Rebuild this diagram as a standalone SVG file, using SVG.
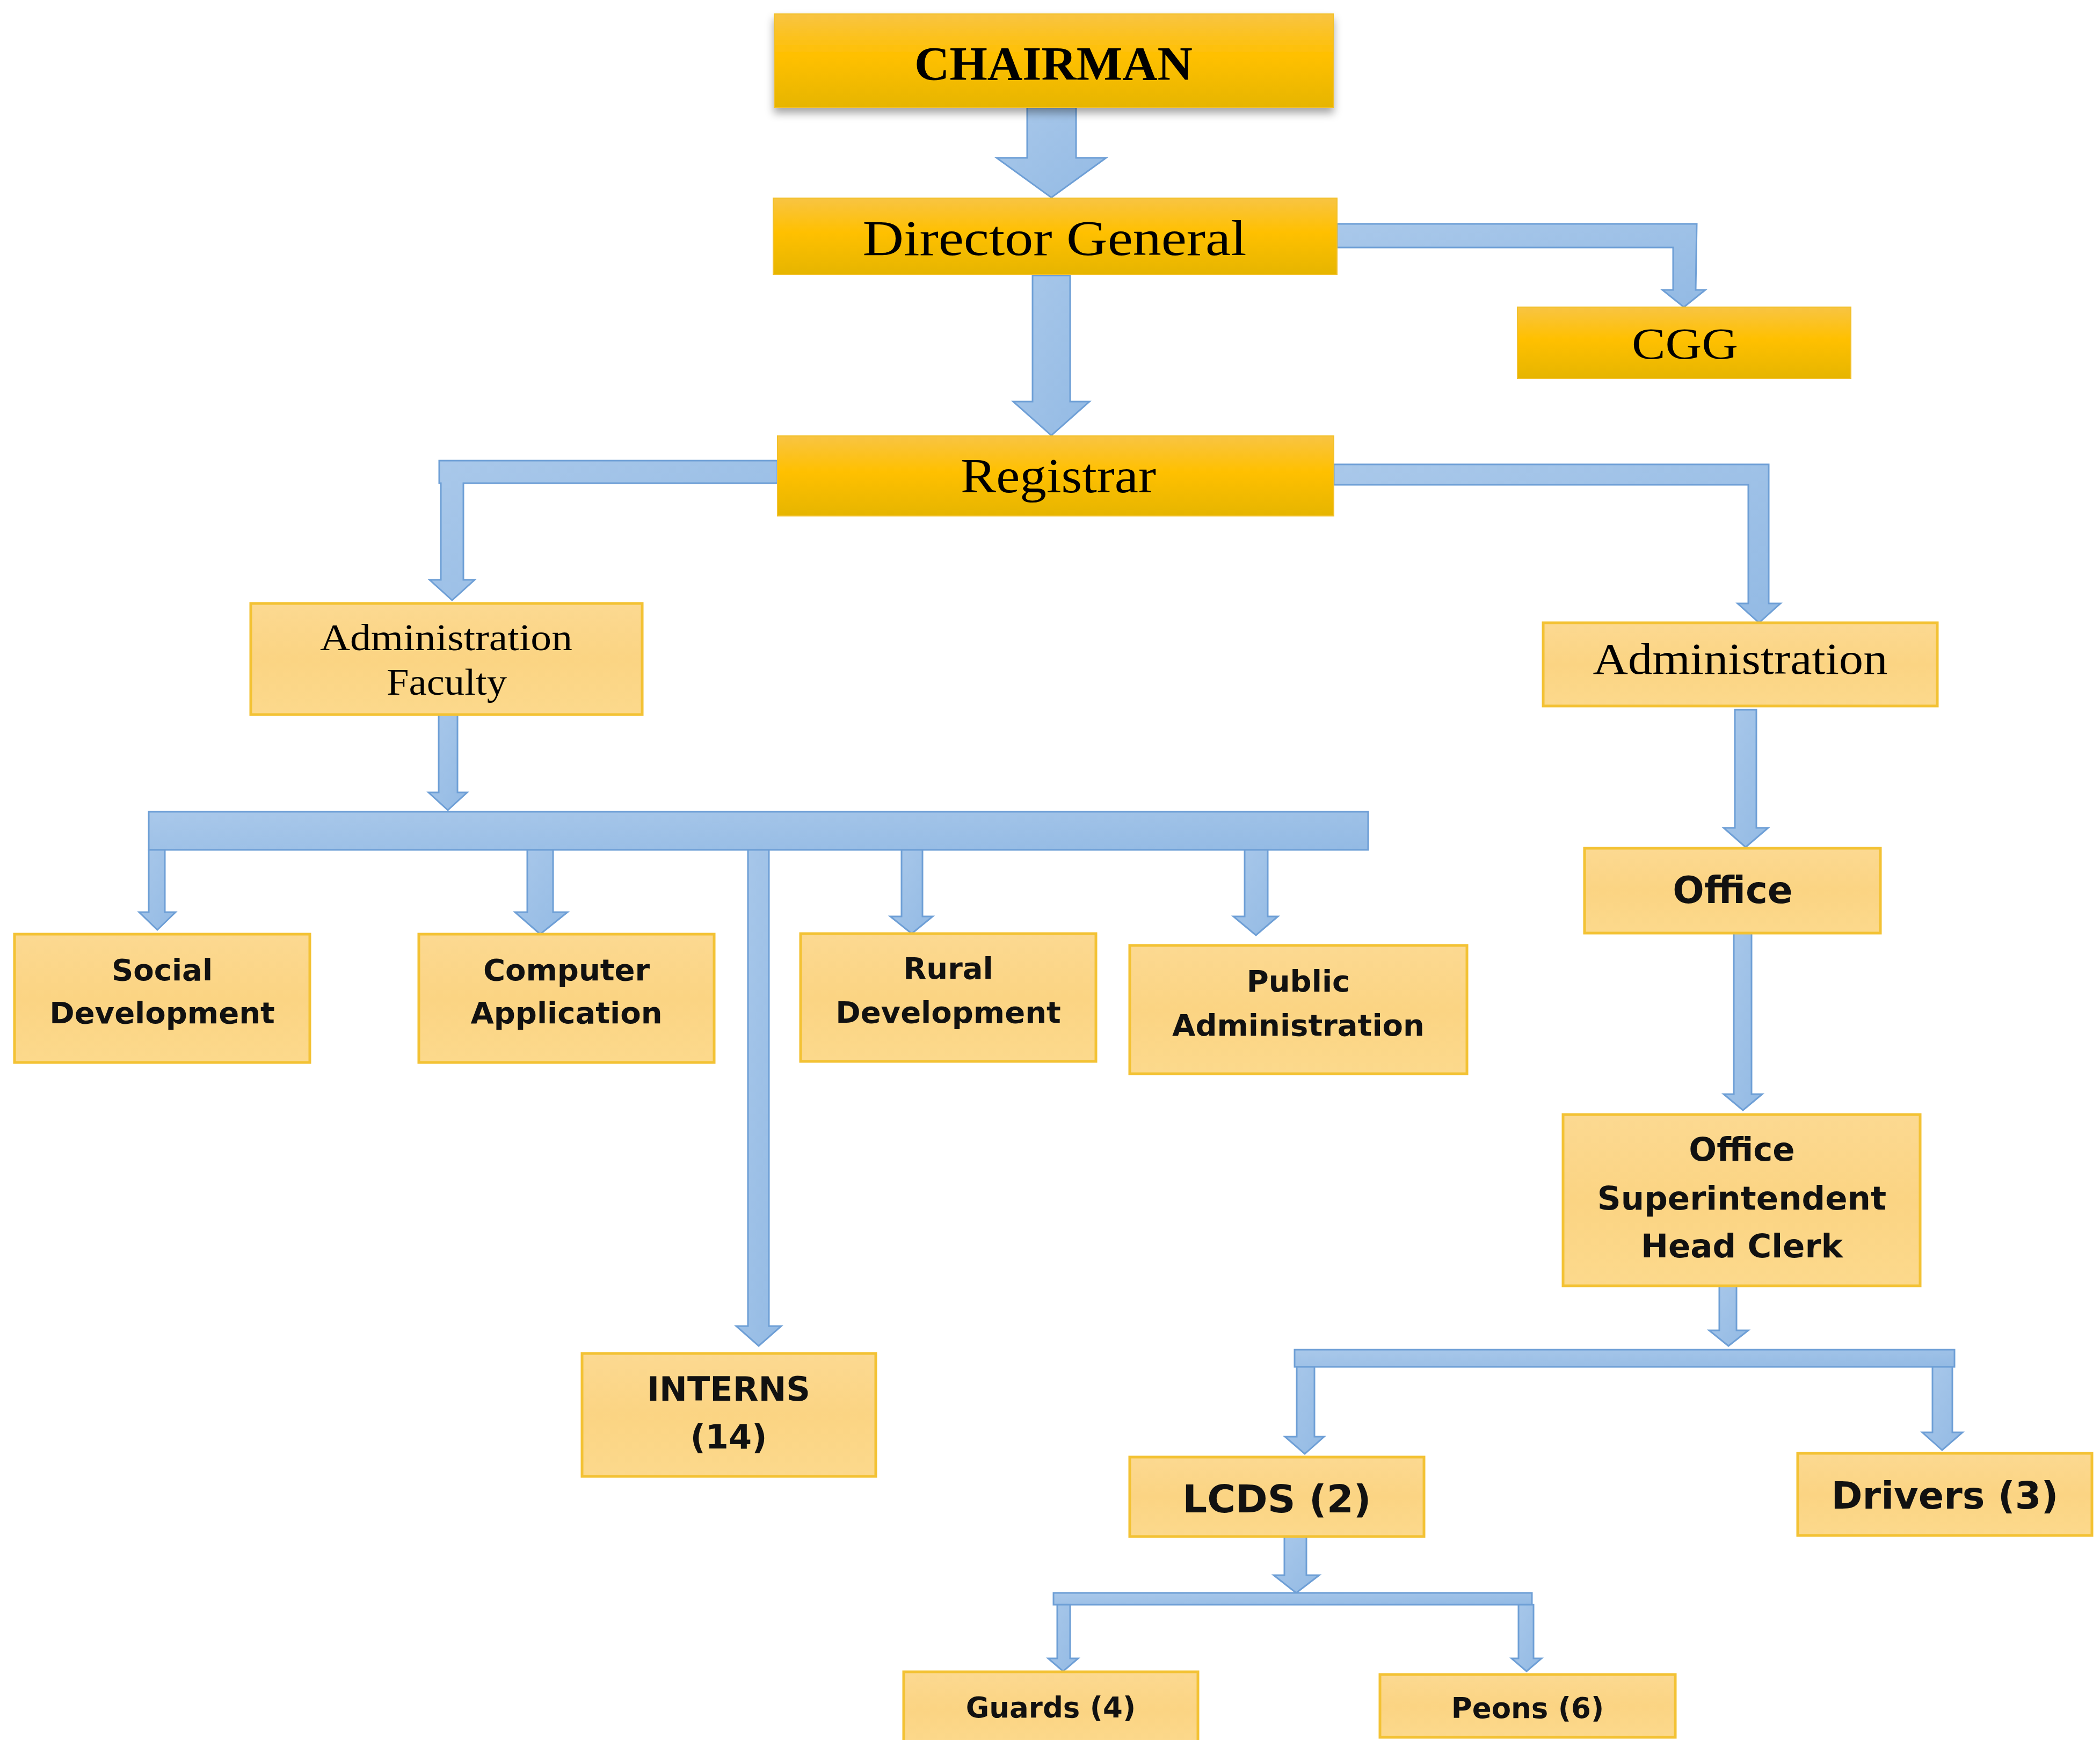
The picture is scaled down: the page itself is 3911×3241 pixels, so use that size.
<svg xmlns="http://www.w3.org/2000/svg" width="3911" height="3241" viewBox="0 0 3911 3241">
<style>
.yb{fill:url(#gy);stroke:#F2C02A;stroke-width:2}
.lb{fill:url(#gl);stroke:#F3C234;stroke-width:5}
.cn{fill:url(#gb);stroke:#6E9FD6;stroke-width:3;stroke-linejoin:miter}
.serif{font-family:"Liberation Serif","DejaVu Serif",serif;fill:#000;text-anchor:middle}
.sans{font-family:"DejaVu Sans","Liberation Sans",sans-serif;font-weight:bold;fill:#111;text-anchor:middle}
</style>
<defs>
<linearGradient id="gy" x1="0" y1="0" x2="0" y2="1">
<stop offset="0" stop-color="#F8C443"/>
<stop offset="0.45" stop-color="#FFC000"/>
<stop offset="1" stop-color="#E6B500"/>
</linearGradient>
<linearGradient id="gl" x1="0" y1="0" x2="0" y2="1">
<stop offset="0" stop-color="#FCD991"/>
<stop offset="0.5" stop-color="#FBD483"/>
<stop offset="1" stop-color="#FCD98C"/>
</linearGradient>
<linearGradient id="gb" x1="0" y1="0" x2="1" y2="1">
<stop offset="0" stop-color="#A9C8EA"/>
<stop offset="1" stop-color="#93BAE4"/>
</linearGradient>
<filter id="sh" x="-5%" y="-20%" width="110%" height="150%">
<feDropShadow dx="0" dy="10" stdDeviation="8" flood-color="#000" flood-opacity="0.35"/>
</filter>
</defs>
<rect width="3911" height="3241" fill="#fff"/>

<g id="connectors">
<!-- Chairman -> DG -->
<polygon class="cn" points="1913,200 2004,200 2004,294 2060,294 1958,368 1856,294 1913,294"/>
<!-- DG -> Registrar -->
<polygon class="cn" points="1923,513 1993,513 1993,748 2029,748 1958,811 1887,748 1923,748"/>
<!-- DG -> CGG -->
<polygon class="cn" points="2490,417 3160,417 3158,540 3176,540 3136,572 3096,540 3116,540 3116,461 2490,461"/>
<!-- Registrar -> Administration Faculty -->
<polygon class="cn" points="1448,858 1448,900 863,900 863,1080 884,1080 842,1118 800,1080 821,1080 821,900 818,900 818,858"/>
<!-- Registrar -> Administration -->
<polygon class="cn" points="2484,865 3294,865 3294,1124 3316,1124 3276,1160 3236,1124 3256,1124 3256,903 2484,903"/>
<!-- Admin Faculty -> bar -->
<polygon class="cn" points="817,1331 852,1331 852,1476 870,1476 834,1509 798,1476 817,1476"/>
<!-- big bar -->
<rect class="cn" x="277" y="1512" width="2271" height="71"/>
<!-- drops -->
<polygon class="cn" points="277,1583 307,1583 307,1699 327,1699 293,1732 259,1699 277,1699"/>
<polygon class="cn" points="982,1583 1030,1583 1030,1699 1057,1699 1006,1740 959,1699 982,1699"/>
<polygon class="cn" points="1393,1583 1432,1583 1432,2470 1455,2470 1413,2507 1371,2470 1393,2470"/>
<polygon class="cn" points="1679,1583 1718,1583 1718,1707 1737,1707 1698,1739 1658,1707 1679,1707"/>
<polygon class="cn" points="2318,1583 2361,1583 2361,1707 2380,1707 2339,1742 2297,1707 2318,1707"/>
<!-- Administration -> Office -->
<polygon class="cn" points="3231,1322 3271,1322 3271,1542 3293,1542 3251,1578 3210,1542 3231,1542"/>
<!-- Office -> OSHC -->
<polygon class="cn" points="3229,1738 3262,1738 3262,2038 3282,2038 3246,2068 3210,2038 3229,2038"/>
<!-- OSHC -> bar2 -->
<polygon class="cn" points="3202,2395 3234,2395 3234,2478 3256,2478 3219,2507 3183,2478 3202,2478"/>
<rect class="cn" x="2411" y="2514" width="1229" height="32"/>
<polygon class="cn" points="2415,2546 2448,2546 2448,2676 2466,2676 2430,2708 2393,2676 2415,2676"/>
<polygon class="cn" points="3599,2546 3636,2546 3636,2668 3655,2668 3617,2701 3580,2668 3599,2668"/>
<!-- LCDS -> bar3 -->
<polygon class="cn" points="2392,2862 2433,2862 2433,2934 2457,2934 2414,2967 2372,2934 2392,2934"/>
<rect class="cn" x="1962" y="2967" width="891" height="22"/>
<polygon class="cn" points="1969,2989 1993,2989 1993,3089 2008,3089 1980,3113 1952,3089 1969,3089"/>
<polygon class="cn" points="2828,2989 2856,2989 2856,3089 2871,3089 2843,3113 2815,3089 2828,3089"/>
</g>

<g id="chairman" filter="url(#sh)">
<rect class="yb" x="1442" y="26" width="1041" height="174"/>
<text class="serif" x="1962" y="148" font-size="88" font-weight="bold" textLength="518" lengthAdjust="spacingAndGlyphs">CHAIRMAN</text>
</g>
<g id="director-general">
<rect class="yb" x="1440" y="369" width="1050" height="142"/>
<text class="serif" x="1964" y="475" font-size="94" textLength="715" lengthAdjust="spacingAndGlyphs">Director General</text>
</g>
<g id="cgg">
<rect class="yb" x="2826" y="572" width="621" height="133"/>
<text class="serif" x="3138" y="668" font-size="82" textLength="198" lengthAdjust="spacingAndGlyphs">CGG</text>
</g>
<g id="registrar">
<rect class="yb" x="1448" y="812" width="1036" height="149"/>
<text class="serif" x="1971" y="917" font-size="90" textLength="364" lengthAdjust="spacingAndGlyphs">Registrar</text>
</g>
<g id="administration-faculty">
<rect class="lb" x="467" y="1124" width="729" height="207"/>
<text class="serif" x="831" y="1211" font-size="70" textLength="470" lengthAdjust="spacingAndGlyphs">Administration</text>
<text class="serif" x="832" y="1294" font-size="70" textLength="224" lengthAdjust="spacingAndGlyphs">Faculty</text>
</g>
<g id="administration">
<rect class="lb" x="2874" y="1160" width="734" height="155"/>
<text class="serif" x="3241" y="1255" font-size="82" textLength="549" lengthAdjust="spacingAndGlyphs">Administration</text>
</g>
<g id="office">
<rect class="lb" x="2951" y="1580" width="551" height="158"/>
<text class="sans" x="3227" y="1682" font-size="69">Office</text>
</g>
<g id="office-superintendent">
<rect class="lb" x="2911" y="2076" width="665" height="319"/>
<text class="sans" x="3244" y="2162" font-size="61">Office</text>
<text class="sans" x="3244" y="2253" font-size="61">Superintendent</text>
<text class="sans" x="3244" y="2342" font-size="61">Head Clerk</text>
</g>
<g id="social-development">
<rect class="lb" x="27" y="1740" width="550" height="239"/>
<text class="sans" x="302" y="1826" font-size="56">Social</text>
<text class="sans" x="302" y="1906" font-size="56">Development</text>
</g>
<g id="computer-application">
<rect class="lb" x="780" y="1740" width="550" height="239"/>
<text class="sans" x="1055" y="1826" font-size="56">Computer</text>
<text class="sans" x="1055" y="1906" font-size="56">Application</text>
</g>
<g id="rural-development">
<rect class="lb" x="1491" y="1739" width="550" height="238"/>
<text class="sans" x="1766" y="1823" font-size="56">Rural</text>
<text class="sans" x="1766" y="1905" font-size="56">Development</text>
</g>
<g id="public-administration">
<rect class="lb" x="2104" y="1761" width="628" height="239"/>
<text class="sans" x="2418" y="1847" font-size="56">Public</text>
<text class="sans" x="2418" y="1929" font-size="56">Administration</text>
</g>
<g id="interns">
<rect class="lb" x="1084" y="2521" width="547" height="229"/>
<text class="sans" x="1357" y="2609" font-size="62">INTERNS</text>
<text class="sans" x="1357" y="2698" font-size="62">(14)</text>
</g>
<g id="lcds">
<rect class="lb" x="2104" y="2714" width="548" height="148"/>
<text class="sans" x="2378" y="2817" font-size="72">LCDS (2)</text>
</g>
<g id="drivers">
<rect class="lb" x="3348" y="2707" width="548" height="153"/>
<text class="sans" x="3622" y="2810" font-size="70">Drivers (3)</text>
</g>
<g id="guards">
<rect class="lb" x="1683" y="3114" width="548" height="140"/>
<text class="sans" x="1957" y="3199" font-size="53">Guards (4)</text>
</g>
<g id="peons">
<rect class="lb" x="2570" y="3119" width="550" height="117"/>
<text class="sans" x="2845" y="3200" font-size="53">Peons (6)</text>
</g>
</svg>
